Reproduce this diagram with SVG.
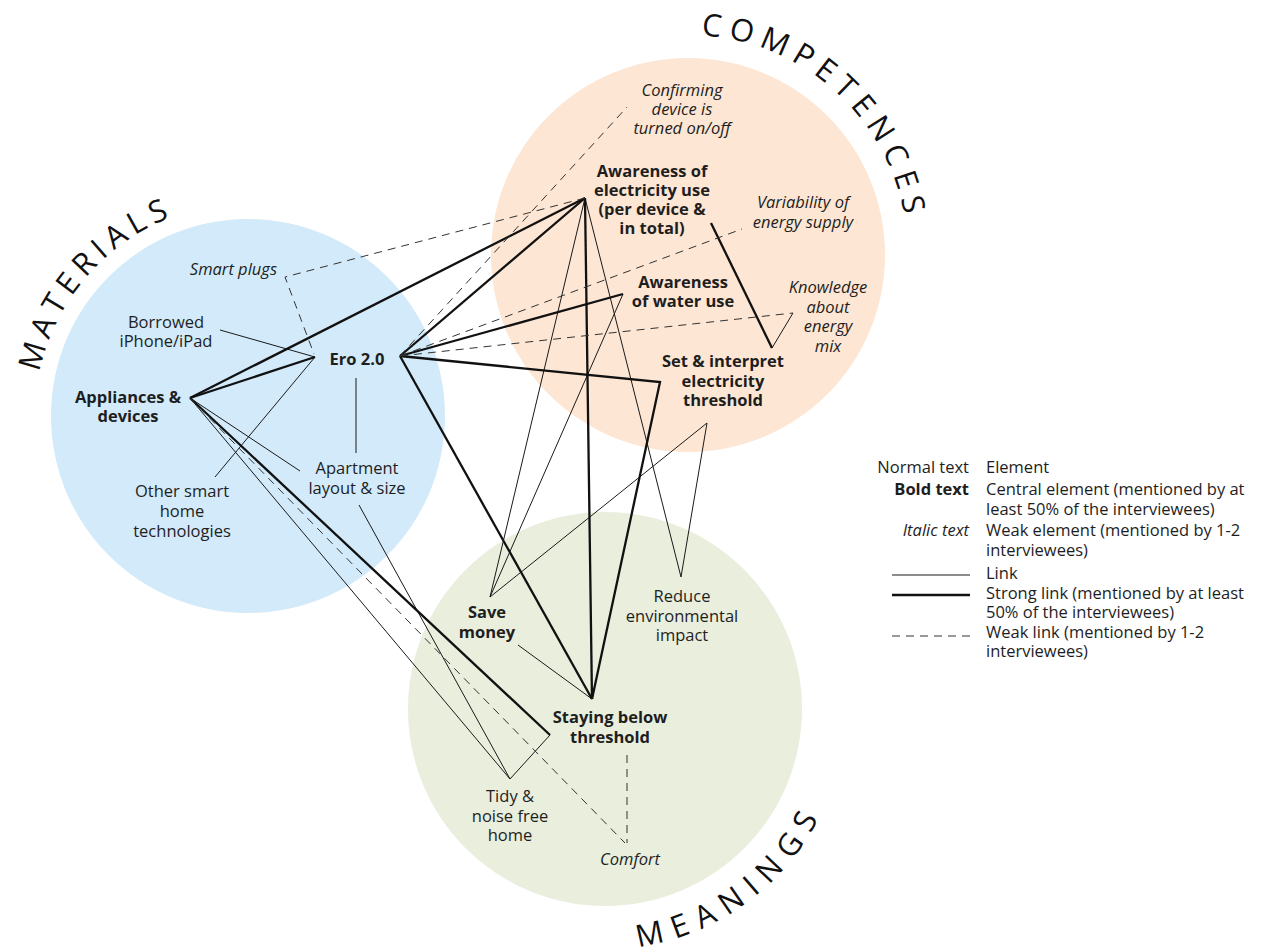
<svg xmlns="http://www.w3.org/2000/svg" width="1271" height="947" viewBox="0 0 1271 947">
<defs>
<style>
text{font-family:"Open Sans","Noto Sans",sans-serif;font-size:16.5px;fill:#1e1e1e}
.n text, text.n{text-anchor:middle}
.b{font-weight:700}
.i{font-style:italic}
.h{font-size:31px;font-weight:400;fill:#111}
.thin{stroke:#1a1a1a;stroke-width:1;fill:none}
.strong{stroke:#111;stroke-width:2.3;fill:none;stroke-linejoin:miter}
.weak{stroke:#333;stroke-width:1;fill:none;stroke-dasharray:8 6}
.lg text{font-size:16.5px}
</style>
<path id="arcM" d="M35,416 A213,213 0 0 1 461,416"/>
<path id="arcC" d="M468,255 A220,220 0 0 1 908,255"/>
<path id="arcE" d="M365,709 A240,240 0 0 0 845,709"/>
</defs>
<rect width="1271" height="947" fill="#ffffff"/>
<g id="domains">
<circle id="materials-circle" cx="248" cy="416" r="197" fill="#d2eaf9"/>
<circle id="competences-circle" cx="688" cy="255" r="197" fill="#fde6d3"/>
<circle id="meanings-circle" cx="605" cy="709" r="197" fill="#e9eedd"/>
<text class="h" text-anchor="middle" letter-spacing="6"><textPath href="#arcM" startOffset="152">MATERIALS</textPath></text>
<text class="h" text-anchor="middle" letter-spacing="7.3"><textPath href="#arcC" startOffset="508">COMPETENCES</textPath></text>
<text class="h" text-anchor="middle" letter-spacing="10"><textPath href="#arcE" startOffset="530">MEANINGS</textPath></text>
</g>
<g id="connectors">
<line class="thin" x1="220" y1="330" x2="315" y2="357"/>
<line class="thin" x1="215" y1="477" x2="315" y2="357"/>
<line class="thin" x1="190" y1="398" x2="300" y2="471"/>
<line class="thin" x1="356" y1="378" x2="356" y2="453"/>
<line class="thin" x1="359" y1="505" x2="510" y2="779"/>
<line class="thin" x1="190" y1="398" x2="510" y2="779"/>
<line class="thin" x1="550" y1="735" x2="510" y2="779"/>
<line class="thin" x1="585" y1="198" x2="490" y2="597"/>
<line class="thin" x1="623" y1="294" x2="490" y2="597"/>
<line class="thin" x1="707" y1="423" x2="490" y2="597"/>
<line class="thin" x1="585" y1="198" x2="681" y2="577"/>
<line class="thin" x1="707" y1="423" x2="681" y2="577"/>
<line class="thin" x1="518" y1="645" x2="592" y2="699"/>
<line class="thin" x1="772" y1="348" x2="793" y2="313"/>
<line class="strong" x1="190" y1="398" x2="585" y2="198"/>
<line class="strong" x1="190" y1="398" x2="315" y2="357"/>
<line class="strong" x1="190" y1="398" x2="550" y2="735"/>
<line class="strong" x1="400" y1="356" x2="585" y2="198"/>
<line class="strong" x1="400" y1="356" x2="623" y2="294"/>
<polyline class="strong" points="400,356 660,382 592,699"/>
<line class="strong" x1="400" y1="356" x2="592" y2="699"/>
<line class="strong" x1="585" y1="198" x2="592" y2="699"/>
<line class="strong" x1="711" y1="223" x2="772" y2="348"/>
<polyline class="weak" points="585,198 285,277 314,354"/>
<line class="weak" x1="400" y1="356" x2="627" y2="107"/>
<line class="weak" x1="400" y1="356" x2="742" y2="229"/>
<line class="weak" x1="400" y1="356" x2="793" y2="313"/>
<line class="weak" x1="190" y1="398" x2="625" y2="843"/>
<line class="weak" x1="627" y1="755" x2="627" y2="843"/>
</g>
<g id="node-confirming" class="n"><text class="i" x="682" y="96">Confirming</text><text class="i" x="682" y="115">device is</text><text class="i" x="682" y="134">turned on/off</text></g>
<g id="node-awareness-electricity" class="n"><text class="b" x="652" y="177">Awareness of</text><text class="b" x="652" y="196">electricity use</text><text class="b" x="652" y="215">(per device &amp;</text><text class="b" x="652" y="234">in total)</text></g>
<g id="node-variability" class="n"><text class="i" x="803" y="208">Variability of</text><text class="i" x="803" y="228">energy supply</text></g>
<g id="node-awareness-water" class="n"><text class="b" x="683" y="288">Awareness</text><text class="b" x="683" y="307">of water use</text></g>
<g id="node-knowledge" class="n"><text class="i" x="828" y="293">Knowledge</text><text class="i" x="828" y="313">about</text><text class="i" x="828" y="332">energy</text><text class="i" x="828" y="352">mix</text></g>
<g id="node-set-threshold" class="n"><text class="b" x="723" y="367">Set &amp; interpret</text><text class="b" x="723" y="387">electricity</text><text class="b" x="723" y="406">threshold</text></g>
<g id="node-smart-plugs"><text class="i" x="277" y="275" text-anchor="end">Smart plugs</text></g>
<g id="node-borrowed" class="n"><text x="166" y="328">Borrowed</text><text x="166" y="347">iPhone/iPad</text></g>
<g id="node-ero" class="n"><text class="b" x="357" y="365">Ero 2.0</text></g>
<g id="node-appliances" class="n"><text class="b" x="128" y="403">Appliances &amp;</text><text class="b" x="128" y="422">devices</text></g>
<g id="node-apartment" class="n"><text x="357" y="474">Apartment</text><text x="357" y="494">layout &amp; size</text></g>
<g id="node-other-smart" class="n"><text x="182" y="497">Other smart</text><text x="182" y="517">home</text><text x="182" y="537">technologies</text></g>
<g id="node-save-money" class="n"><text class="b" x="487" y="618">Save</text><text class="b" x="487" y="638">money</text></g>
<g id="node-reduce" class="n"><text x="682" y="602">Reduce</text><text x="682" y="622">environmental</text><text x="682" y="641">impact</text></g>
<g id="node-staying" class="n"><text class="b" x="610" y="723">Staying below</text><text class="b" x="610" y="743">threshold</text></g>
<g id="node-tidy" class="n"><text x="510" y="802">Tidy &amp;</text><text x="510" y="822">noise free</text><text x="510" y="841">home</text></g>
<g id="node-comfort" class="n"><text class="i" x="630" y="865">Comfort</text></g>
<g id="legend" class="lg">
<text x="969" y="473" text-anchor="end">Normal text</text>
<text x="969" y="495" text-anchor="end" class="b">Bold text</text>
<text x="969" y="536" text-anchor="end" class="i">Italic text</text>
<line class="thin" x1="892" y1="575" x2="970" y2="575"/>
<line class="strong" x1="892" y1="595" x2="970" y2="595"/>
<line class="weak" x1="892" y1="636" x2="970" y2="636" stroke-dasharray="7 9"/>
<text x="986" y="473">Element</text>
<text x="986" y="495">Central element (mentioned by at</text>
<text x="986" y="515">least 50% of the interviewees)</text>
<text x="986" y="536">Weak element (mentioned by 1-2</text>
<text x="986" y="556">interviewees)</text>
<text x="986" y="579">Link</text>
<text x="986" y="599">Strong link (mentioned by at least</text>
<text x="986" y="618">50% of the interviewees)</text>
<text x="986" y="638">Weak link (mentioned by 1-2</text>
<text x="986" y="657">interviewees)</text>
</g>
</svg>
